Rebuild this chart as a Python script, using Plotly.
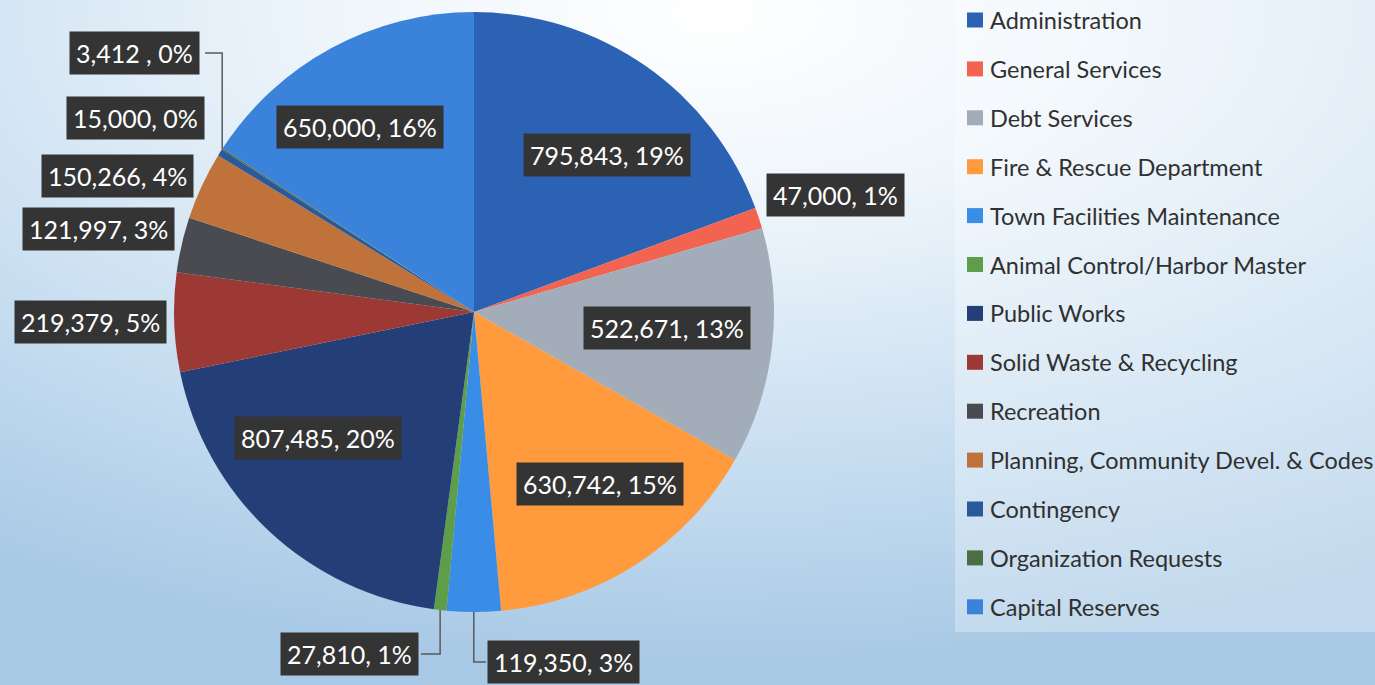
import base64
import math

import plotly.graph_objects as go

W, H = 1375, 685

categories = [
    "Administration",
    "General Services",
    "Debt Services",
    "Fire & Rescue Department",
    "Town Facilities Maintenance",
    "Animal Control/Harbor Master",
    "Public Works",
    "Solid Waste & Recycling",
    "Recreation",
    "Planning, Community Devel. & Codes",
    "Contingency",
    "Organization Requests",
    "Capital Reserves",
]
amounts = [795843, 47000, 522671, 630742, 119350, 27810, 807485,
           219379, 121997, 150266, 15000, 3412, 650000]
label_texts = [
    "795,843, 19%", "47,000, 1%", "522,671, 13%", "630,742, 15%",
    "119,350, 3%", "27,810, 1%", "807,485, 20%", "219,379, 5%",
    "121,997, 3%", "150,266, 4%", "15,000, 0%", "3,412 , 0%", "650,000, 16%",
]
colors = ["#2C62B4", "#F26450", "#A3ADBA", "#FF9B3D", "#3A8DE6", "#5E9E4A",
          "#243F78", "#9D3934", "#4A4B51", "#BF733A", "#29599A", "#4B6E42",
          "#3A82DA"]

# label box centres in pixels (placed by hand, like the original)
_LABEL_XY = [(607, 155), (835, 195), (667, 328), (600, 484), (563, 662),
             (350, 654), (318, 438), (90, 322), (98, 229), (117, 176),
             (135, 118), (134, 53), (360, 127)]
_LEADER = {"Town Facilities Maintenance", "Animal Control/Harbor Master",
           "Organization Requests"}

CX, CY, R = 474, 312, 300
_FONT = "Lato, 'Open Sans', sans-serif"


def px(x):
    return x / W


def py(y):
    return 1 - y / H


def _background():
    svg = (
        '<svg xmlns="http://www.w3.org/2000/svg" width="1375" height="685" preserveAspectRatio="none">'
        '<defs><radialGradient id="g" cx="0.52" cy="0.02" r="0.95">'
        '<stop offset="0" stop-color="#FFFFFF"/>'
        '<stop offset="0.3" stop-color="#EEF5FB"/>'
        '<stop offset="0.7" stop-color="#C6DDF0"/>'
        '<stop offset="1" stop-color="#A8C9E5"/>'
        '</radialGradient></defs>'
        '<rect width="1375" height="685" fill="url(#g)"/></svg>'
    )
    return "data:image/svg+xml;base64," + base64.b64encode(svg.encode()).decode()


fig = go.Figure(
    go.Pie(
        labels=categories,
        values=amounts,
        sort=False,
        direction="clockwise",
        rotation=0,
        textinfo="none",
        hoverinfo="label+value+percent",
        marker={"colors": colors, "line": {"width": 0}},
        domain={"x": [px(CX - R), px(CX + R)], "y": [py(CY + R), py(CY - R)]},
        showlegend=False,
    )
)

total = sum(amounts)
annotations = []
shapes = [
    {"type": "rect", "xref": "paper", "yref": "paper", "x0": px(955), "x1": 1,
     "y0": py(632), "y1": 1, "fillcolor": "rgba(255,255,255,0.3)",
     "line": {"width": 0}, "layer": "below"},
]

cum = 0
for name, val, text, (lx, ly) in zip(categories, amounts, label_texts, _LABEL_XY):
    mid = 2 * math.pi * (cum + val / 2) / total
    cum += val
    if name in _LEADER:
        ex = CX + R * math.sin(mid)
        ey = CY - R * math.cos(mid)
        half = len(text) * 6.2 + 9
        side = lx + half if lx < ex else lx - half
        shapes.append({
            "type": "path", "xref": "paper", "yref": "paper",
            "path": f"M {px(ex)} {py(ey)} L {px(ex)} {py(ly)} L {px(side)} {py(ly)}",
            "line": {"color": "#5A5A5A", "width": 1.5},
        })
    annotations.append({
        "text": text, "x": px(lx), "y": py(ly), "xref": "paper", "yref": "paper",
        "xanchor": "center", "yanchor": "middle", "showarrow": False, "borderpad": 6,
        "font": {"family": _FONT, "size": 25, "color": "white"},
        "bgcolor": "#343434",
    })

# legend, drawn by hand so the row spacing matches
for i, (name, col) in enumerate(zip(categories, colors)):
    yc = 20 + i * 48.9
    shapes.append({
        "type": "rect", "xref": "paper", "yref": "paper",
        "x0": px(967), "x1": px(983), "y0": py(yc + 7.5), "y1": py(yc - 7.5),
        "fillcolor": col, "line": {"width": 0},
    })
    annotations.append({
        "text": name, "x": px(988), "y": py(yc), "xref": "paper", "yref": "paper",
        "xanchor": "left", "yanchor": "middle", "showarrow": False,
        "font": {"family": _FONT, "size": 23.5, "color": "#303030"},
    })

fig.update_layout(
    width=W,
    height=H,
    margin={"t": 0, "b": 0, "l": 0, "r": 0},
    paper_bgcolor="#D6E7F4",
    plot_bgcolor="rgba(0,0,0,0)",
    images=[{"source": _background(), "xref": "paper", "yref": "paper", "x": 0, "y": 1,
             "sizex": 1, "sizey": 1, "sizing": "stretch", "layer": "below"}],
    shapes=shapes,
    annotations=annotations,
)
fig.write_html(
    "out.html",
    config={"displayModeBar": False},
    post_script="document.body.style.margin='0';document.body.style.overflow='hidden';",
)
